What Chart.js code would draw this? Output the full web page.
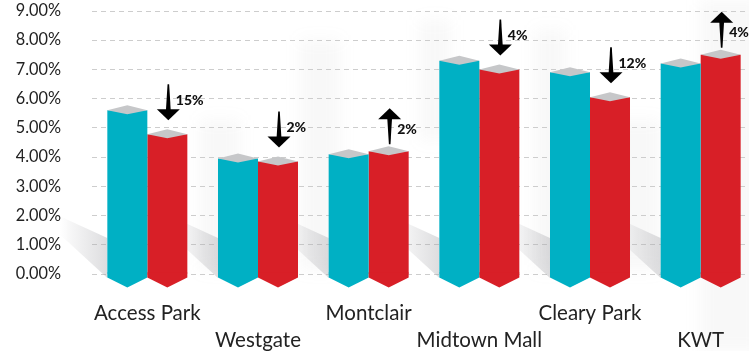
<!DOCTYPE html>
<html><head><meta charset="utf-8">
<script src="https://cdn.jsdelivr.net/npm/chart.js@4.4.0/dist/chart.umd.min.js"></script>
<style>
html,body{margin:0;padding:0;background:#fff;overflow:hidden;width:749px;height:351px}
#wrap{position:absolute;left:0;top:0;width:756px;height:351px}
</style></head><body><div id="wrap"><canvas id="c" width="756" height="351"></canvas></div>
<script>
const categories = ['Access Park','Westgate','Montclair','Midtown Mall','Cleary Park','KWT'];
const seriesA = [5.6, 3.95, 4.1, 7.3, 6.9, 7.2];
const seriesB = [4.78, 3.85, 4.2, 7.0, 6.05, 7.5];
const changeLabels = ['15%','2%','2%','4%','12%','4%'];
const changeDirections = ['down','down','up','down','down','up'];
const yTickValues = [0,1,2,3,4,5,6,7,8,9];

const TEAL = '#00B0C4', RED = '#D81F27', TOP = '#C6C7C9';

const decor = {
  id: 'decor',
  beforeDraw(chart) {
    const ctx = chart.ctx;
    ctx.save();
    ctx.filter = 'blur(8px)';
    ctx.fillStyle = 'rgba(150,150,150,0.07)';
    [[300,40,40,230],[420,20,30,120],[535,30,30,240],[600,120,60,150],[700,0,60,351],[200,120,40,150]].forEach(r => ctx.fillRect(r[0], r[1], r[2], r[3]));
    ctx.restore();
  },
  beforeDatasetsDraw(chart) {
    const ctx = chart.ctx;
    const meta = chart.getDatasetMeta(0);
    ctx.save();
    meta.data.forEach(el => {
      const x0 = el.x - el.width / 2;
      const g = ctx.createLinearGradient(x0 - 48, 0, x0, 0);
      g.addColorStop(0, 'rgba(165,165,170,0)');
      g.addColorStop(1, 'rgba(165,165,170,0.38)');
      ctx.fillStyle = g;
      ctx.beginPath();
      ctx.moveTo(x0 - 48, 216);
      ctx.lineTo(x0, 238);
      ctx.lineTo(x0, 278);
      ctx.lineTo(x0 - 48, 234);
      ctx.closePath();
      ctx.fill();
    });
    ctx.restore();
  },
  afterDatasetsDraw(chart) {
    const ctx = chart.ctx;
    ctx.save();
    chart.data.datasets.forEach((ds, di) => {
      const meta = chart.getDatasetMeta(di);
      meta.data.forEach(el => {
        const x0 = el.x - el.width / 2, x1 = el.x + el.width / 2, xc = el.x;
        const base = el.base;
        ctx.fillStyle = ds.backgroundColor;
        ctx.beginPath();
        ctx.moveTo(x0, base - 1);
        ctx.lineTo(x0, base + 4);
        ctx.lineTo(xc, base + 14);
        ctx.lineTo(x1, base + 4);
        ctx.lineTo(x1, base - 1);
        ctx.closePath();
        ctx.fill();
        const y = el.y;
        ctx.fillStyle = TOP;
        ctx.beginPath();
        ctx.moveTo(x0, y);
        ctx.lineTo(xc, y - 5);
        ctx.lineTo(x1, y);
        ctx.lineTo(xc, y + 4);
        ctx.closePath();
        ctx.fill();
      });
    });
    const metaB = chart.getDatasetMeta(1);
    metaB.data.forEach((el, i) => {
      const cx = el.x + 1;
      const peak = el.y - 5;
      const len = 36, headH = 11, headW = 23;
      let tip, tail, labelY;
      ctx.fillStyle = '#000';
      if (changeDirections[i] === 'down') {
        tip = peak - 9; tail = tip - len;
        const hb = tip - headH;
        ctx.beginPath();
        ctx.moveTo(cx - 0.8, tail); ctx.lineTo(cx + 0.8, tail);
        ctx.lineTo(cx + 2.4, hb + 1); ctx.lineTo(cx - 2.4, hb + 1);
        ctx.closePath(); ctx.fill();
        ctx.beginPath();
        ctx.moveTo(cx - headW / 2, hb); ctx.lineTo(cx + headW / 2, hb); ctx.lineTo(cx, tip);
        ctx.closePath(); ctx.fill();
        labelY = (tip + tail) / 2 - 2;
      } else {
        tail = peak - 2; tip = tail - len;
        const hb = tip + headH;
        ctx.beginPath();
        ctx.moveTo(cx - 0.8, tail); ctx.lineTo(cx + 0.8, tail);
        ctx.lineTo(cx + 2.4, hb - 1); ctx.lineTo(cx - 2.4, hb - 1);
        ctx.closePath(); ctx.fill();
        ctx.beginPath();
        ctx.moveTo(cx - headW / 2, hb); ctx.lineTo(cx + headW / 2, hb); ctx.lineTo(cx, tip);
        ctx.closePath(); ctx.fill();
        labelY = (tip + tail) / 2 + 3;
      }
      ctx.font = '900 14px Lato';
      ctx.textAlign = 'left';
      ctx.textBaseline = 'middle';
      ctx.fillStyle = '#111';
      ctx.fillText(changeLabels[i], cx + 7.5, labelY);
    });
    ctx.restore();
  }
};

new Chart(document.getElementById('c'), {
  type: 'bar',
  data: {
    labels: categories,
    datasets: [
      { label: 'Previous', data: seriesA, backgroundColor: TEAL, borderWidth: 0 },
      { label: 'Current', data: seriesB, backgroundColor: RED, borderWidth: 0 }
    ]
  },
  options: {
    responsive: false,
    animation: false,
    layout: { padding: { top: 11, left: 0, right: 0, bottom: 0 } },
    plugins: { legend: { display: false }, tooltip: { enabled: false } },
    datasets: { bar: { categoryPercentage: 0.723, barPercentage: 1 } },
    scales: {
      x: {
        grid: { display: false, drawTicks: false },
        border: { display: false },
        afterFit(s) { s.height = 77; },
        ticks: {
          autoSkip: false, maxRotation: 0, minRotation: 0, padding: 26,
          color: '#222', font: { family: 'Lato', size: 20.5, lineHeight: 1.32 },
          callback(v, i) { const l = categories[i]; return i % 2 ? ['', l] : l; }
        }
      },
      y: {
        min: 0, max: 9,
        afterFit(s) { s.width = 92; s.paddingTop = 0; s.paddingBottom = 0; },
        afterBuildTicks(s) { s.ticks = yTickValues.map(v => ({ value: v })); },
        grid: { color: '#cdcdcd', lineWidth: 1, drawTicks: false },
        border: { display: false, dash: [5, 4] },
        ticks: {
          padding: 31, color: '#222', font: { family: 'Lato', size: 16.3 },
          callback(v) { return v.toFixed(2) + '%'; }
        }
      }
    }
  },
  plugins: [decor]
});
</script>
</body></html>
